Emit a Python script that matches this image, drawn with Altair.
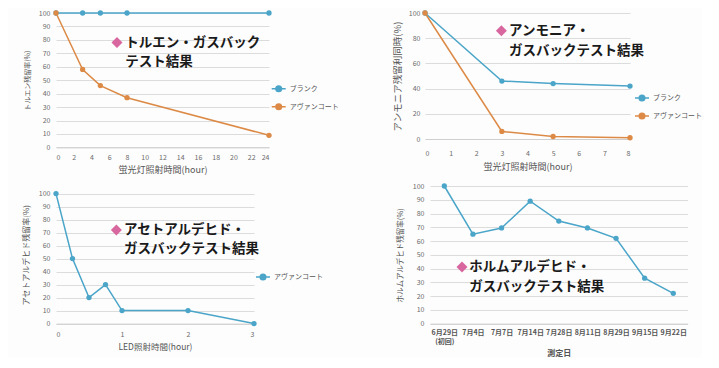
import altair as alt
import pandas as pd

FONT = "Noto Sans CJK JP"
BLUE = "#4aa5c9"
ORANGE = "#dc8a46"
PINK = "#d9679f"
SERIES = ["ブランク", "アヴァンコート"]

# --- data -------------------------------------------------------------
toluene_hours = [0, 3, 5, 8, 24]
toluene_blank = [100, 100, 100, 100, 100]
toluene_avan = [100, 58, 46, 37, 9]

ammonia_hours = [0, 3, 5, 8]
ammonia_blank = [100, 46, 44, 42]
ammonia_avan = [100, 6, 2, 1]

acet_hours = [0, 0.25, 0.5, 0.75, 1, 2, 3]
acet_avan = [100, 50, 20, 30, 10, 10, 0]

form_dates = ["6月29日\n(初回)", "7月4日", "7月7日", "7月14日", "7月28日",
              "8月11日", "8月29日", "9月15日", "9月22日"]
form_vals = [100, 65, 69.5, 89, 74.5, 69.5, 62, 33, 22]

# --- helpers ----------------------------------------------------------
SYMBOL = ("M-1,0L1,0"
          "M-0.4,0A0.4,0.4,0,1,1,0.4,0A0.4,0.4,0,1,1,-0.4,0"
          "M-0.22,0A0.22,0.22,0,1,1,0.22,0A0.22,0.22,0,1,1,-0.22,0"
          "M-0.08,0A0.08,0.08,0,1,1,0.08,0A0.08,0.08,0,1,1,-0.08,0")


def legend(x, y):
    return alt.Legend(title=None, orient="none", legendX=x, legendY=y,
                      symbolType=SYMBOL, symbolSize=196, symbolStrokeWidth=1.5,
                      labelFont=FONT, labelFontSize=7, labelColor="#555555",
                      labelOffset=3, rowPadding=4, padding=0)


def long_df(x, series_values):
    rows = []
    for name, vals in series_values:
        for xv, v in zip(x, vals):
            rows.append({"x": xv, "v": v, "s": name})
    return pd.DataFrame(rows)


def titles(xs, ys, xt, x_pos, y1, y2, diamond_x, line1, line2, dx_d=0, dx_t=0):
    """xs/ys: (scale, axis) pairs shared with the data layer; xt: x type"""
    def X(v):
        return alt.XDatum(v, type=xt, scale=xs[0], axis=xs[1])

    def Y(v):
        return alt.YDatum(v, type="quantitative", scale=ys[0], axis=ys[1])

    enc = dict(x=X(diamond_x), y=Y(y1))
    if dx_d:
        enc["xOffset"] = alt.value(dx_d)
    diamond = alt.Chart().mark_point(shape="diamond", filled=True, size=121,
                                     color=PINK, opacity=1).encode(**enc)
    t1 = alt.Chart().mark_text(align="left", baseline="middle", font=FONT,
                               fontSize=13.5, fontWeight="bold", color="#1a1a1a",
                               dx=dx_t).encode(
        x=X(x_pos), y=Y(y1), text=alt.value(line1))
    t2 = alt.Chart().mark_text(align="left", baseline="middle", font=FONT,
                               fontSize=13.5, fontWeight="bold", color="#1a1a1a",
                               dx=dx_t).encode(
        x=X(x_pos), y=Y(y2), text=alt.value(line2))
    return [diamond, t1, t2]


def y_axis(title, step, tsize, lpad=6, tpad=8):
    return alt.Axis(values=list(range(0, 101, step)), title=title, grid=True,
                    domain=False, ticks=False, labelFontSize=7,
                    labelPadding=lpad, titleFontSize=tsize, titlePadding=tpad)


line_mark = dict(strokeWidth=1.5, point=alt.OverlayMarkDef(filled=True, size=28, opacity=1))

# --- panel 1: toluene -------------------------------------------------
x1 = (alt.Scale(domain=[0, 24], nice=False),
      alt.Axis(values=list(range(0, 25, 2)), grid=False, ticks=False,
               labelFontSize=7, labelPadding=6,
               title="蛍光灯照射時間(hour)", titleFontSize=9, titlePadding=5))
y1 = (alt.Scale(domain=[0, 100], nice=False), y_axis("トルエン残留率(%)", 10, 7))
df1 = long_df(toluene_hours, [(SERIES[0], toluene_blank), (SERIES[1], toluene_avan)])
p1_lines = alt.Chart(df1).mark_line(**line_mark).encode(
    x=alt.X("x:Q", scale=x1[0], axis=x1[1]),
    y=alt.Y("v:Q", scale=y1[0], axis=y1[1]),
    color=alt.Color("s:N", scale=alt.Scale(domain=SERIES, range=[BLUE, ORANGE]),
                    legend=legend(214.7, 67.7)),
    order="x:Q",
)
p1 = alt.layer(p1_lines, *titles(x1, y1, "quantitative", 7.8, 78, 63.2, 6.87,
                                 "トルエン・ガスバック", "テスト結果")
               ).properties(width=213, height=134.4)

# --- panel 2: ammonia -------------------------------------------------
x2 = (alt.Scale(domain=[0, 8], nice=False),
      alt.Axis(values=list(range(0, 9)), grid=False, ticks=False,
               labelFontSize=7, labelPadding=10,
               title="蛍光灯照射時間(hour)", titleFontSize=9, titlePadding=6))
y2 = (alt.Scale(domain=[0, 100], nice=False),
      y_axis("アンモニア残留利同時(%)", 20, 9.5, lpad=5, tpad=6))
df2 = long_df(ammonia_hours, [(SERIES[0], ammonia_blank), (SERIES[1], ammonia_avan)])
p2_lines = alt.Chart(df2).mark_line(**line_mark).encode(
    x=alt.X("x:Q", scale=x2[0], axis=x2[1]),
    y=alt.Y("v:Q", scale=y2[0], axis=y2[1]),
    color=alt.Color("s:N", scale=alt.Scale(domain=SERIES, range=[BLUE, ORANGE]),
                    legend=legend(209, 77)),
    order="x:Q",
)
p2 = alt.layer(p2_lines, *titles(x2, y2, "quantitative", 3.28, 86, 69.6, 2.98,
                                 "アンモニア・", "ガスバックテスト結果")
               ).properties(width=205, height=126)

# --- panel 3: acetaldehyde --------------------------------------------
x3 = (alt.Scale(domain=[0, 3], nice=False),
      alt.Axis(values=[0, 1, 2, 3], grid=False, ticks=False,
               labelFontSize=7, labelPadding=7,
               title="LED照射時間(hour)", titleFontSize=8.5, titlePadding=5))
y3 = (alt.Scale(domain=[0, 105.85], nice=False),
      y_axis("アセトアルデヒド残留率(%)", 10, 8))
df3 = long_df(acet_hours, [(SERIES[1], acet_avan)])
p3_lines = alt.Chart(df3).mark_line(**line_mark).encode(
    x=alt.X("x:Q", scale=x3[0], axis=x3[1]),
    y=alt.Y("v:Q", scale=y3[0], axis=y3[1]),
    color=alt.Color("s:N", scale=alt.Scale(domain=[SERIES[1]], range=[BLUE]),
                    legend=legend(199, 83)),
    order="x:Q",
)
p3 = alt.layer(p3_lines, *titles(x3, y3, "quantitative", 1.03, 72, 57.2, 0.915,
                                 "アセトアルデヒド・", "ガスバックテスト結果")
               ).properties(width=198, height=137.6)

# --- panel 4: formaldehyde --------------------------------------------
x4 = (alt.Scale(type="point", padding=0.5, domain=form_dates),
      alt.Axis(labelAngle=0, grid=False, ticks=False, labelFontSize=7,
               labelFontWeight="bold", labelColor="#555555",
               labelExpr="split(datum.label, '\\n')", labelLineHeight=8.5,
               labelPadding=5, title="測定日", titleFontSize=8,
               titleFontWeight="bold", titlePadding=5))
y4 = (alt.Scale(domain=[0, 100], nice=False),
      y_axis("ホルムアルデヒド残留率(%)", 10, 7.5))
df4 = pd.DataFrame({"d": form_dates, "v": form_vals})
p4_lines = alt.Chart(df4).mark_line(color=BLUE, strokeWidth=1.5,
                                    point=alt.OverlayMarkDef(filled=True, size=28, color=BLUE, opacity=1)).encode(
    x=alt.X("d:N", sort=form_dates, scale=x4[0], axis=x4[1]),
    y=alt.Y("v:Q", scale=y4[0], axis=y4[1]),
)
p4 = alt.layer(p4_lines, *titles(x4, y4, "nominal", form_dates[0], 41.1, 26.6, form_dates[0],
                                 "ホルムアルデヒド・", "ガスバックテスト結果",
                                 dx_d=17.7, dx_t=25)
               ).properties(width=257.6, height=137.6)

row1 = alt.hconcat(p1, p2, spacing=53).resolve_scale(color="independent")
row2 = alt.hconcat(p3, p4, spacing=73).resolve_scale(color="independent")

chart = alt.vconcat(row1, row2, spacing=7).resolve_scale(color="independent").properties(
    padding={"left": 14, "top": 1, "right": 0, "bottom": 0},
    background="#fdfdfd",
).configure_view(stroke=None).configure_axis(
    labelFont=FONT, titleFont=FONT, labelColor="#6b6b6b", titleColor="#555555",
    gridColor="#dcdcdc", gridWidth=1, domainColor="#cfcfcf",
    titleFontWeight="normal",
)

chart.save("out.html", embed_options={"renderer": "svg", "actions": False})
